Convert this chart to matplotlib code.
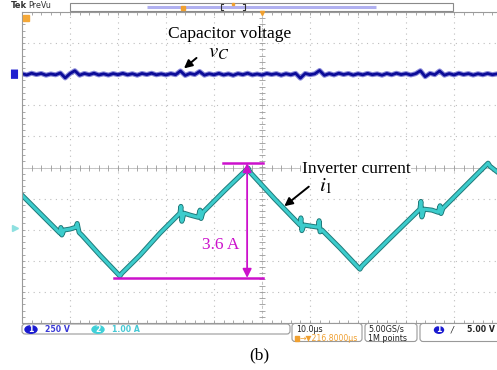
import numpy as np
import matplotlib
matplotlib.use("Agg")
import matplotlib.pyplot as plt
import matplotlib.patheffects as pe
from matplotlib.patches import Rectangle, FancyBboxPatch, Ellipse
from matplotlib.ticker import MultipleLocator
from matplotlib import transforms

plt.rcParams["mathtext.fontset"] = "stix"

# scope settings
time_div = 10.0      # us / div
volt_div = 250.0     # V / div (ch1)
amp_div = 1.0        # A / div (ch2)
ch1_pos = 3.0        # div
ch2_pos = -1.95      # div

# inverter current i1 (A) vs time (us)
t_i = [0.0, 3.75, 7.9, 8.1, 8.3, 8.75, 10.0, 11.25, 11.5, 11.7, 11.9, 12.5, 16.25, 20.4,
       20.8, 24.6, 28.75, 32.9, 33.1, 33.3, 33.75, 35.0, 36.7, 37.1, 37.3, 37.7, 42.3, 47.1,
       47.5, 52.7, 57.9, 58.1, 58.3, 58.75, 60.4, 61.7, 61.9, 62.1, 62.5, 66.25, 70.4,
       70.8, 76.7, 82.9, 83.1, 83.3, 83.75, 85.4, 86.7, 87.1, 87.3, 87.7, 92.3, 97.1, 97.5, 99.5]
i_l = [1.06, 0.48, -0.16, 0.02, -0.22, -0.06, -0.03, 0.03, 0.15, 0.0, -0.14, -0.23, -0.87, -1.54,
       -1.45, -0.87, -0.16, 0.48, 0.70, 0.22, 0.48, 0.42, 0.35, 0.58, 0.31, 0.51, 1.22, 1.93,
       1.80, 0.93, 0.10, 0.33, -0.08, 0.10, 0.06, 0.03, 0.24, -0.12, -0.06, -0.64, -1.32,
       -1.22, -0.32, 0.61, 0.86, 0.36, 0.61, 0.58, 0.51, 0.72, 0.47, 0.64, 1.35, 2.09, 1.99, 1.75]

# capacitor voltage ripple vC (V), one sample per us
t_v = list(range(100))
v_c = [4, -6, 8, -3, 6, -8, 2, -5, 10, -30,
       5, 28, -8, 6, -4, 8, -6, 3, -7, 5,
       -4, 7, -5, 4, -8, 6, -3, 8, -5, 3,
       -6, 5, -4, 26, -10, 6, -3, 22, -8, 4,
       -5, 7, -6, 3, -9, 5, -4, 8, -6, 2,
       -7, 6, -3, 5, -8, 4, -5, 7, -32, 6,
       -4, 3, 30, -9, 5, -6, 8, -3, 6, -7,
       4, -5, 7, -4, 3, -8, 6, -5, 8, -3,
       5, -6, 4, 28, -20, 7, -4, 26, -8, 5,
       -6, 8, -3, 5, -7, 4, -5, 6, -4, 3]

W, H = 497, 370
fig = plt.figure(figsize=(W / 100, H / 100), dpi=100)
ax = fig.add_axes([22 / W, 47 / H, 480 / W, 311 / H])
ax.set_xlim(0, 10 * time_div)
ax.set_ylim(-5, 5)

grey = "#9a9a9a"
for s in ["left", "top", "bottom"]:
    ax.spines[s].set_color(grey)
    ax.spines[s].set_linewidth(0.8)
ax.spines["right"].set_visible(False)
ax.xaxis.set_major_locator(MultipleLocator(time_div))
ax.xaxis.set_minor_locator(MultipleLocator(time_div / 5))
ax.yaxis.set_major_locator(MultipleLocator(1))
ax.yaxis.set_minor_locator(MultipleLocator(0.2))
ax.tick_params(which="both", direction="in", length=2.5, width=0.6, color=grey,
               top=True, bottom=True, left=True, right=False,
               labelbottom=False, labelleft=False)
ax.grid(True, which="major", color="#bdbdbd", linestyle=(0, (1, 4)), linewidth=0.8)
ax.axhline(0, color="#c4c4c4", lw=0.7)
ax.axvline(5 * time_div, color="#c4c4c4", lw=0.7, linestyle=(0, (3, 2)))
mx = np.arange(0, 100.1, time_div / 5)
ax.plot(mx, np.zeros_like(mx), "|", ms=4, color=grey, mew=0.6)
my = np.arange(-5, 5.01, 0.2)
ax.plot(np.full_like(my, 5 * time_div), my, "_", ms=4, color=grey, mew=0.6)

# traces
vc_div = np.array(v_c) / volt_div + ch1_pos
ax.plot(t_v, vc_div, color="#3a3ac0", lw=3.6, alpha=0.6)
ax.plot(t_v, vc_div, color="#0c0c98", lw=2.0)

il_div = np.array(i_l) / amp_div + ch2_pos
ax.plot(t_i, il_div, color="#3ccccc", lw=2.2, solid_joinstyle="round",
        path_effects=[pe.Stroke(linewidth=3.6, foreground="#207a7a"), pe.Normal()])

# annotations
serif = "Liberation Serif"
ax.text(43.3, 4.29, "Capacitor voltage", family=serif, fontsize=12.5, ha="center", va="center")
ax.text(41.0, 3.72, r"$v_C$", fontsize=15, ha="center", va="center")
ax.annotate("", xy=(33.3, 3.13), xytext=(36.8, 3.58),
            arrowprops=dict(arrowstyle="-|>", color="black", lw=1.4, mutation_scale=12))
ax.text(69.6, -0.05, "Inverter current", family=serif, fontsize=12.5, ha="center", va="center",
        bbox=dict(facecolor="white", edgecolor="none", pad=0.5))
ax.text(63.3, -0.6, r"$i_1$", fontsize=15, ha="center", va="center")
ax.annotate("", xy=(54.2, -1.30), xytext=(60.2, -0.56),
            arrowprops=dict(arrowstyle="-|>", color="black", lw=1.4, mutation_scale=12))

mag = "#cc11cc"
hi = max(il_div)
lo = min(il_div) - 0.06
ax.plot([41.9, 50.2], [hi, hi], color=mag, lw=1.8)
ax.plot([19.2, 50.2], [lo, lo], color=mag, lw=1.8)
ax.annotate("", xy=(46.9, hi), xytext=(46.9, lo),
            arrowprops=dict(arrowstyle="<|-|>", color=mag, lw=1.3, mutation_scale=13,
                            shrinkA=0, shrinkB=0))
ax.text(45.2, -2.49, "3.6 A", family=serif, fontsize=12.5, color=mag, ha="right", va="center")

# scope chrome
ov = fig.add_axes([0, 0, 1, 1])
ov.set_xlim(0, W)
ov.set_ylim(H, 0)
ov.axis("off")
ov.patch.set_visible(False)

small = dict(fontsize=5.6, fontweight="bold", va="center", family="DejaVu Sans")
ov.text(11, 6, "Tek", fontsize=6, fontweight="bold", va="center", color="#333333")
ov.text(28, 6, "PreVu", fontsize=5.8, va="center", color="#333333")
ov.add_patch(Rectangle((70, 3), 383, 7.5, facecolor="white", edgecolor="#8a8a8a", lw=0.8))
ov.plot([147, 376], [7, 7], color="#b0b0f0", lw=2.2, solid_capstyle="butt")
ov.plot([223, 221, 221, 223], [4, 4, 10, 10], color="#333333", lw=0.8)
ov.plot([243, 245, 245, 243], [4, 4, 10, 10], color="#333333", lw=0.8)
ov.plot([183], [8], "s", color="#f0a030", ms=2.5)
ov.plot([233], [3.5], "s", color="#f0a030", ms=2)
ov.plot([262], [12.5], "v", color="#f0a030", ms=3)
ov.plot([26], [17.5], "s", color="#f4a838", ms=4.5)

yb = transforms.blended_transform_factory(ov.transData, ax.transData)
ov.add_patch(FancyBboxPatch((11, ch1_pos - 0.1), 7, 0.2, boxstyle="round,pad=0.05",
                            transform=yb, facecolor="#2020d0", edgecolor="none"))
ov.plot([15], [ch2_pos], ">", color="#8ee0e0", ms=5, transform=yb)

ov.add_patch(FancyBboxPatch((22, 324), 268, 10, boxstyle="round,pad=0,rounding_size=3",
                            facecolor="white", edgecolor="#999999", lw=0.8))
ov.add_patch(Ellipse((31, 329.5), 12, 7.5, color="#1a1ad0"))
ov.text(31, 329.5, "1", color="white", ha="center", **small)
ov.text(45, 329.5, "250 V", color="#3a3ad6", **small)
ov.add_patch(Ellipse((98, 329.5), 12, 7.5, color="#3fd0d8"))
ov.text(98, 329.5, "2", color="white", ha="center", **small)
ov.text(112, 329.5, "1.00 A", color="#46c8d4", **small)

for x0, x1 in [(292, 362), (365, 417), (420, 505)]:
    ov.add_patch(FancyBboxPatch((x0, 323.5), x1 - x0, 18, boxstyle="round,pad=0,rounding_size=3",
                                facecolor="white", edgecolor="#999999", lw=0.8))
ov.text(296, 329, "10.0µs", color="#222222", fontsize=5.8, va="center")
ov.add_patch(Rectangle((295, 335.5), 4, 5, color="#f0a030"))
ov.text(300, 338.5, "→▼216.8000µs", color="#f0a030", fontsize=5.6, va="center")
ov.text(368, 329, "5.00GS/s", color="#222222", fontsize=5.8, va="center")
ov.text(368, 338.5, "1M points", color="#222222", fontsize=5.8, va="center")
ov.add_patch(Ellipse((439, 330), 9, 6.5, color="#1a1ad0"))
ov.text(439, 330, "1", color="white", ha="center", **small)
ov.text(452, 330, "/", color="#222222", fontsize=6, fontstyle="italic", va="center", ha="center")
ov.text(495, 330, "5.00 V", color="#222222", ha="right",
        **{k: v for k, v in small.items() if k != "ha"})

ov.text(259, 355, "(b)", family=serif, fontsize=12.5, ha="center", va="center")

fig.savefig("out.png", dpi=100)
